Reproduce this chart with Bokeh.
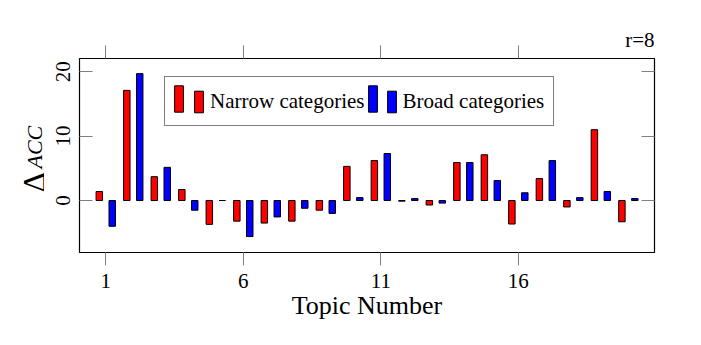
from math import pi
from bokeh.plotting import figure
from bokeh.layouts import row
from bokeh.models import (ColumnDataSource, Legend, LegendItem, Label, LinearAxis,
                          FixedTicker, Range1d)
from bokeh.transform import dodge
from bokeh.embed import file_html
from bokeh.resources import INLINE

# ---- data ----
topics = list(range(1, 21))
narrow = [1.4, 17.1, 3.7, 1.7, -3.7, -3.2, -3.5, -3.2, -1.5, 5.3,
          6.2, -0.1, -0.7, 5.9, 7.1, -3.65, 3.4, -1.0, 11.0, -3.3]
broad = [-4.0, 19.7, 5.15, -1.5, 0.0, -5.6, -2.55, -1.2, -2.0, 0.45,
         7.3, 0.3, -0.4, 5.9, 3.1, 1.2, 6.2, 0.45, 1.4, 0.3]
x_ticks = [1, 6, 11, 16]
y_ticks = [0, 10, 20]
series_labels = ["Narrow categories", "Broad categories"]
title_text = "r=8"
x_title = "Topic Number"
y_title_main, y_title_sub = "Δ", "ACC"

SERIF = "Liberation Serif"
TICK = "#808080"
H = 337

src = ColumnDataSource(dict(topic=topics, narrow=narrow, broad=broad))

# ---- narrow strip on the left that carries the y title  Δ_ACC ----
# (its frame is aligned with the main frame by the row layout)
lab = figure(width=44, height=H, output_backend="svg", toolbar_location=None,
             x_axis_type=None, y_axis_type=None,
             min_border_left=0, min_border_right=0, min_border_top=0,
             min_border_bottom=0, x_range=Range1d(0, 1), y_range=Range1d(0, 1))
lab.grid.visible = False
lab.outline_line_color = None
lab.add_layout(Label(x=33, y=60, x_units="screen", y_units="screen",
                     text=y_title_main, angle=pi / 2, text_align="left",
                     text_baseline="alphabetic", text_font=SERIF,
                     text_font_size="32px", text_color="black"))
lab.add_layout(Label(x=34, y=84, x_units="screen", y_units="screen",
                     text=y_title_sub, angle=pi / 2, text_align="left",
                     text_baseline="alphabetic", text_font=SERIF,
                     text_font_size="22px", text_font_style="italic",
                     text_color="black"))

# ---- main chart ----
p = figure(width=649, height=H, output_backend="svg", toolbar_location=None,
           x_range=Range1d(0.045, 20.95), y_range=Range1d(-8.07, 22.05),
           min_border_left=35, min_border_right=39, min_border_top=58,
           min_border_bottom=85)
p.grid.visible = False
p.outline_line_color = "black"
p.outline_line_width = 1.2

r_red = p.vbar(x=dodge("topic", -0.235), top="narrow", bottom=0, width=0.235,
               fill_color="#ff0000", line_color="black", line_width=1, source=src)
r_blue = p.vbar(x=dodge("topic", 0.235), top="broad", bottom=0, width=0.235,
                fill_color="#0000ff", line_color="black", line_width=1, source=src)


def style_axis(ax, tick_in, tick_out, labels=True):
    ax.axis_line_color = None
    ax.major_tick_in = tick_in
    ax.major_tick_out = tick_out
    ax.major_tick_line_color = TICK
    ax.major_tick_line_width = 1
    ax.minor_tick_line_color = None
    ax.major_label_text_font = SERIF
    ax.major_label_text_color = "black"
    if labels:
        ax.major_label_text_font_size = "21px"
    else:
        ax.major_label_text_font_size = "0px"
        ax.major_label_standoff = 0


xa = p.xaxis[0]
xa.ticker = FixedTicker(ticks=x_ticks)
style_axis(xa, 0, 13)
xa.major_label_standoff = 8
xa.axis_label = x_title
xa.axis_label_text_font = SERIF
xa.axis_label_text_font_size = "26px"
xa.axis_label_text_font_style = "normal"
xa.axis_label_text_color = "black"
xa.axis_label_standoff = 0

ya = p.yaxis[0]
ya.ticker = FixedTicker(ticks=y_ticks)
style_axis(ya, 13, 0)
ya.major_label_orientation = "vertical"
ya.major_label_standoff = 9

top_ax = LinearAxis(ticker=FixedTicker(ticks=x_ticks))
style_axis(top_ax, 0, 13, labels=False)
p.add_layout(top_ax, "above")

right_ax = LinearAxis(ticker=FixedTicker(ticks=y_ticks))
style_axis(right_ax, 13, 0, labels=False)
p.add_layout(right_ax, "right")

# ---- "r=8" as a right-aligned title just above the frame ----
p.title.text = title_text
p.title.align = "right"
p.title.text_font = SERIF
p.title.text_font_size = "21px"
p.title.text_font_style = "normal"
p.title.text_color = "black"
p.title.standoff = -13

# ---- legend: framed legend with short bars and text ----
leg_a = Legend(items=[LegendItem(label="", renderers=[]),
                      LegendItem(label=series_labels[0], renderers=[r_red]),
                      LegendItem(label="", renderers=[]),
                      LegendItem(label=series_labels[1], renderers=[r_blue])],
               orientation="horizontal", location=(85, 126), margin=0,
               glyph_width=11, glyph_height=27, label_width=0, label_height=30,
               label_standoff=6, spacing=2, padding=9,
               border_line_color="black", border_line_width=1,
               background_fill_color="white", background_fill_alpha=1,
               label_text_font=SERIF, label_text_font_size="21px",
               label_text_color="black")
p.add_layout(leg_a, "center")

# taller companion bars in the legend
leg_b = Legend(items=[LegendItem(label="", renderers=[r_red]),
                      LegendItem(label="", renderers=[r_blue])],
               orientation="horizontal", location=(94, 137), margin=0,
               glyph_width=11, glyph_height=33, label_width=0, label_height=0,
               label_standoff=0, spacing=183, padding=0,
               border_line_color=None, background_fill_alpha=0,
               label_text_font_size="1px")
p.add_layout(leg_b, "center")

layout = row(lab, p)
open("out.html", "w").write(file_html(layout, INLINE))
